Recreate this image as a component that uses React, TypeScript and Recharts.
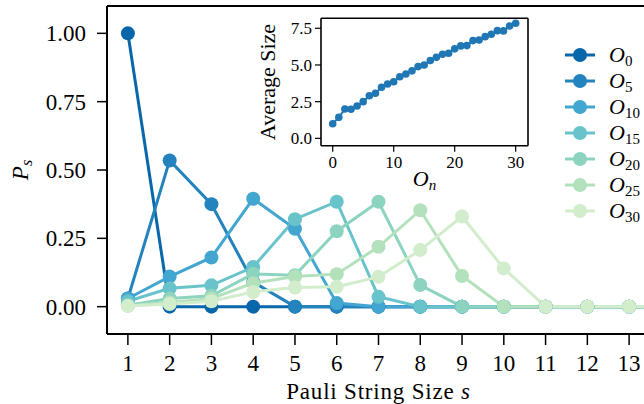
import React from "react";
import { LineChart, Line, XAxis, YAxis, Legend, ReferenceLine, Label } from "recharts";

// Pauli string sizes (x axis of the main plot)
const sizes = [1, 2, 3, 4, 5, 6, 7, 8, 9, 10, 11, 12, 13, 14];
const sizeTicks = [1, 2, 3, 4, 5, 6, 7, 8, 9, 10, 11, 12, 13];
const probTicks = [0, 0.25, 0.5, 0.75, 1];

// P_s for a few operators O_n
const seriesNames = ["0", "5", "10", "15", "20", "25", "30"];
const seriesColors = ["#0866ab", "#2383bd", "#43a6d0", "#68c3ca", "#8dd4c0", "#b3e1bb", "#d2edcb"];
const o0 = [1.0, 0, 0, 0, 0, 0, 0, 0, 0, 0, 0, 0, 0, 0];
const o5 = [0.03, 0.535, 0.375, 0.09, 0, 0, 0, 0, 0, 0, 0, 0, 0, 0];
const o10 = [0.03, 0.11, 0.18, 0.395, 0.285, 0.013, 0, 0, 0, 0, 0, 0, 0, 0];
const o15 = [0.02, 0.067, 0.078, 0.145, 0.32, 0.384, 0.036, 0, 0, 0, 0, 0, 0, 0];
const o20 = [0.005, 0.03, 0.04, 0.12, 0.115, 0.276, 0.384, 0.079, 0, 0, 0, 0, 0, 0];
const o25 = [0.003, 0.015, 0.03, 0.086, 0.11, 0.119, 0.219, 0.353, 0.112, 0, 0, 0, 0, 0];
const o30 = [0.002, 0.01, 0.02, 0.054, 0.07, 0.073, 0.109, 0.207, 0.33, 0.14, 0, 0, 0, 0];
const seriesValues = [o0, o5, o10, o15, o20, o25, o30];

// inset: average size vs operator index n
const opIndex = Array.from({ length: 31 }, (_, i) => i);
const avgSize = [
  1.0, 1.43, 2.0, 1.98, 2.2, 2.5, 2.9, 3.07, 3.48, 3.7,
  3.86, 4.2, 4.39, 4.6, 4.89, 5.0, 5.3, 5.52, 5.73, 5.8,
  6.1, 6.3, 6.32, 6.66, 6.7, 6.93, 7.09, 7.34, 7.32, 7.66, 7.84,
];
const insetXTicks = [0, 10, 20, 30];
const insetYTicks = [0, 2.5, 5, 7.5];

const mainData = sizes.map((s, i) => {
  const row: any = { s };
  seriesNames.forEach((n, k) => (row["o" + n] = seriesValues[k][i]));
  return row;
});
const insetData = opIndex.map((n, i) => ({ n, avg: avgSize[i] }));

const FONT = "'Liberation Serif', 'Times New Roman', serif";

// legend keeps the plotting order (recharts sorts by value otherwise)
const LegendBox = ({ payload }: any) => {
  const items = [...(payload || [])].sort(
    (a: any, b: any) => seriesNames.indexOf(a.value) - seriesNames.indexOf(b.value)
  );
  return (
    <svg width={84} height={26 * 7} style={{ display: "block" }}>
      {items.map((p: any, i: number) => (
        <g key={i} transform={`translate(0, ${13 + i * 26})`}>
          <line x1={5} x2={35} y1={0} y2={0} stroke={p.color} strokeWidth={3} />
          <circle cx={20} cy={0} r={7} fill={p.color} />
          <text x={49} y={7} fontFamily={FONT} fontSize={22} fill="#000">
            <tspan fontStyle="italic">O</tspan>
            <tspan fontSize={15} dy={4}>{p.value}</tspan>
          </text>
        </g>
      ))}
    </svg>
  );
};

export default function App() {
  const tickStyle = { fill: "#000", fontSize: 23, fontFamily: FONT };
  const insetTick = { fill: "#000", fontSize: 17, fontFamily: FONT };

  return (
    <div style={{ position: "absolute", left: 0, top: 0, width: 644, height: 404, overflow: "hidden", background: "#fff" }}>
      <LineChart width={650} height={404} data={mainData} margin={{ top: 6, right: 0, bottom: 0, left: 0 }}>
        <XAxis
          dataKey="s"
          type="number"
          domain={[0.5, 13.5]}
          allowDataOverflow
          ticks={sizeTicks}
          interval={0}
          height={70}
          tick={tickStyle}
          tickSize={11}
          tickMargin={10}
          axisLine={{ stroke: "#000", strokeWidth: 2 }}
          tickLine={{ stroke: "#000", strokeWidth: 1.5 }}
        >
          <Label
            content={({ viewBox }: any) => (
              <text x={viewBox.x + viewBox.width / 2} y={viewBox.y + 65} textAnchor="middle" fontFamily={FONT} fontSize={23} letterSpacing={0.8} fill="#000">
                Pauli String Size <tspan fontStyle="italic">s</tspan>
              </text>
            )}
          />
        </XAxis>
        <YAxis
          type="number"
          domain={[-0.1, 1.1]}
          allowDataOverflow
          ticks={probTicks}
          tickFormatter={(v: number) => v.toFixed(2)}
          width={107}
          tick={tickStyle}
          tickSize={10}
          tickMargin={11}
          axisLine={{ stroke: "#000", strokeWidth: 2 }}
          tickLine={{ stroke: "#000", strokeWidth: 1.5 }}
        >
          <Label
            content={({ viewBox }: any) => {
              const cx = 28;
              const cy = viewBox.y + viewBox.height / 2;
              return (
                <text x={cx} y={cy} transform={`rotate(-90, ${cx}, ${cy})`} textAnchor="middle" fontFamily={FONT} fontSize={23} fill="#000">
                  <tspan fontStyle="italic">P</tspan>
                  <tspan fontStyle="italic" fontSize={16} dy={4}>s</tspan>
                </text>
              );
            }}
          />
        </YAxis>
        <ReferenceLine y={1.1} stroke="#000" strokeWidth={2} />
        {seriesNames.map((n, k) => (
          <Line
            key={n}
            dataKey={"o" + n}
            name={n}
            stroke={seriesColors[k]}
            strokeWidth={3}
            dot={{ r: 7, fill: seriesColors[k], stroke: "none" }}
            activeDot={false}
            isAnimationActive={false}
          />
        ))}
        <Legend
          layout="vertical"
          align="center"
          verticalAlign="middle"
          content={<LegendBox />}
          wrapperStyle={{ left: 560, top: 42, width: 84 }}
        />
      </LineChart>

      <div style={{ position: "absolute", left: 250, top: 10 }}>
        <LineChart width={290} height={185} data={insetData} margin={{ top: 8.3, right: 12, bottom: 0, left: 0 }}>
          <XAxis
            dataKey="n"
            type="number"
            domain={[-1.92, 32.02]}
            allowDataOverflow
            ticks={insetXTicks}
            height={49.3}
            tick={insetTick}
            tickSize={6}
            tickMargin={4}
            axisLine={{ stroke: "#000", strokeWidth: 1.6 }}
            tickLine={{ stroke: "#000", strokeWidth: 1.2 }}
          >
            <Label
              content={({ viewBox }: any) => (
                <text x={viewBox.x + viewBox.width / 2} y={viewBox.y + 40} textAnchor="middle" fontFamily={FONT} fontSize={22} fill="#000">
                  <tspan fontStyle="italic">O</tspan>
                  <tspan fontStyle="italic" fontSize={15} dy={4}>n</tspan>
                </text>
              )}
            />
          </XAxis>
          <YAxis
            type="number"
            domain={[-0.5, 8.18]}
            allowDataOverflow
            ticks={insetYTicks}
            tickFormatter={(v: number) => v.toFixed(1)}
            width={71}
            tick={insetTick}
            tickSize={6}
            tickMargin={3}
            axisLine={{ stroke: "#000", strokeWidth: 1.6 }}
            tickLine={{ stroke: "#000", strokeWidth: 1.2 }}
          >
            <Label
              content={({ viewBox }: any) => {
                const cx = 25;
                const cy = viewBox.y + viewBox.height / 2;
                return (
                  <text x={cx} y={cy} transform={`rotate(-90, ${cx}, ${cy})`} textAnchor="middle" fontFamily={FONT} fontSize={22} fill="#000">
                    Average Size
                  </text>
                );
              }}
            />
          </YAxis>
          <ReferenceLine y={8.18} stroke="#000" strokeWidth={1.6} />
          <ReferenceLine x={32.02} stroke="#000" strokeWidth={1.6} />
          <Line
            dataKey="avg"
            stroke="#1f77b4"
            strokeWidth={2}
            dot={{ r: 3.8, fill: "#1f77b4", stroke: "none" }}
            activeDot={false}
            isAnimationActive={false}
          />
        </LineChart>
      </div>
    </div>
  );
}
